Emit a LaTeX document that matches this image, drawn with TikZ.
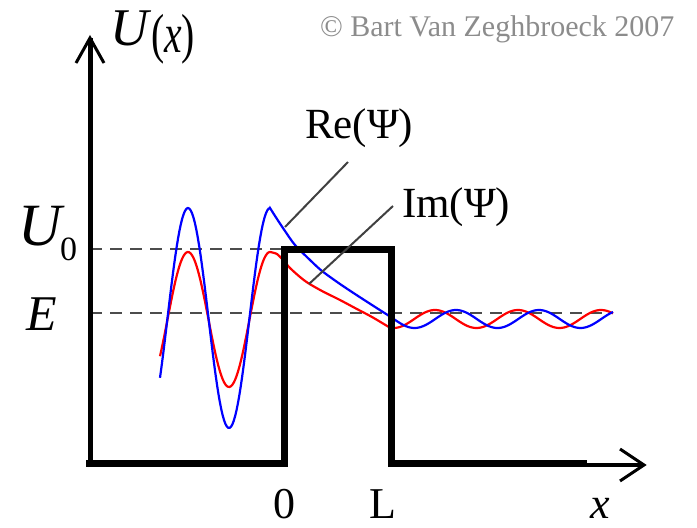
\documentclass[tikz,border=0pt]{standalone}
\usepackage{fontspec}
\setmainfont{Liberation Serif}
\begin{document}
\begin{tikzpicture}[x=1pt,y=-1pt,
  txt/.style={inner sep=0pt, outer sep=0pt, anchor=base west},
  dashln/.style={black!70, line width=1.8pt, dash pattern=on 12pt off 8pt},
  thickln/.style={black, line width=7pt, line join=miter},
  axisln/.style={black, line width=5pt},
  headln/.style={black, line width=3pt, line join=miter},
  rewave/.style={blue, line width=2.2pt},
  imwave/.style={red, line width=2.2pt},
  pointer/.style={black!75, line width=2pt}]
\useasboundingbox (0,0) rectangle (697,528);
% coordinates
\coordinate (o) at (90,467);
\coordinate (ytip) at (90,38);
\coordinate (u0l) at (90,249);
\coordinate (u0r) at (284,249);
\coordinate (el) at (90,313);
\coordinate (er) at (612,313);
\coordinate (b0) at (86,463.5);
\coordinate (b1) at (284,463.5);
\coordinate (b2) at (284,249);
\coordinate (b3) at (391,249);
\coordinate (b4) at (391,463.5);
\coordinate (b5) at (587,463.5);
\coordinate (xa) at (587,465);
\coordinate (xtip) at (644,465);
% dashed levels
\draw[dashln] (u0l) -- (u0r);
\draw[dashln] (el) -- (er);
% waves
\draw[imwave] plot[domain=160:270, samples=80] (\x, {319.5-67.5*cos((\x-188)/82*360)})
  -- plot[smooth] coordinates {(270,252) (277,254) (283,260) (290,268) (300,277) (308,283) (322,291) (340,300) (355,308) (372,317) (390,327.7)}
  -- plot[domain=390:613, samples=120] (\x, {319-9*cos((\x-435)/83*360)});
\draw[rewave] plot[domain=160:270, samples=80] (\x, {318-110*cos((\x-188)/82*360)})
  -- plot[smooth] coordinates {(270,208) (277,219) (285,231) (295,245) (310,260) (322,271) (340,284) (355,294) (372,305) (391,317.1)}
  -- plot[domain=391:613, samples=120] (\x, {319-9*cos((\x-456)/83*360)});
% axes and barrier
\draw[axisln] (o) -- (ytip);
\draw[headln] (76,63) -- (ytip) -- (104,63);
\draw[thickln] (b0) -- (b1) -- (b2) -- (b3) -- (b4) -- (b5);
\draw[black, line width=4pt] (xa) -- (xtip);
\draw[headln] (620,449) -- (xtip) -- (620,481);
% labels
\node[txt, font=\fontsize{53}{53}\selectfont\itshape] (U) at (110,45) {U};
\node[txt] (Ux) at (151,52) {\scalebox{0.72}[1]{\fontsize{55}{55}\selectfont(\textit{x})}};
\node[txt, font=\fontsize{60}{60}\selectfont\itshape] (U0) at (19,245) {U};
\node[txt, font=\fontsize{34}{34}\selectfont] (U0s) at (60,260) {0};
\node[txt, font=\fontsize{50}{50}\selectfont\itshape] (E) at (27,330) {E};
\node[txt, font=\fontsize{44}{44}\selectfont] (zero) at (273,518) {0};
\node[txt, font=\fontsize{44}{44}\selectfont] (L) at (369,518) {L};
\node[txt, font=\fontsize{44}{44}\selectfont\itshape] (xl) at (590,518) {x};
\node[txt, font=\fontsize{43}{43}\selectfont] (re) at (305,138) {Re(Ψ)};
\node[txt, font=\fontsize{43}{43}\selectfont] (im) at (402,217) {Im(Ψ)};
\node[txt, font=\fontsize{30}{30}\selectfont, text=black!45] (copy) at (320,36) {© Bart Van Zeghbroeck 2007};
% pointers
\coordinate (rep) at (285,227);
\coordinate (imp) at (309,284);
\draw[pointer] (rep) -- (348,162);
\draw[pointer] (imp) -- (393,206);
\end{tikzpicture}
\end{document}
